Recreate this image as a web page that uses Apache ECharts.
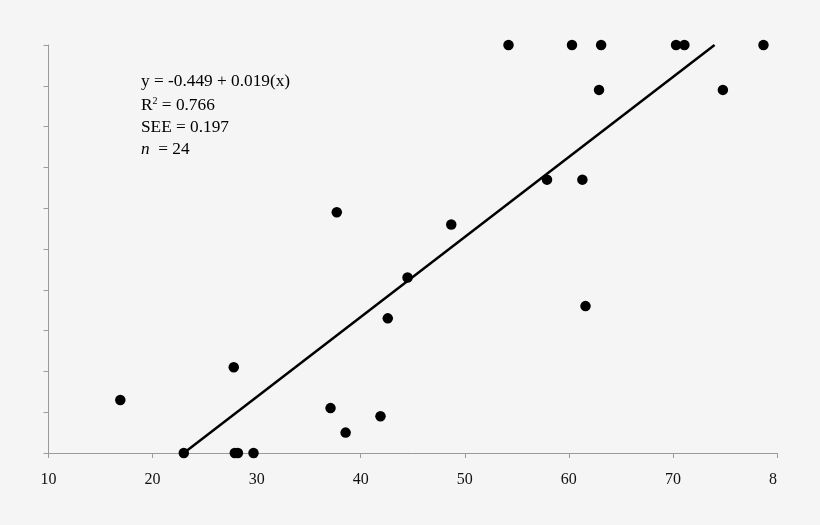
<!DOCTYPE html>
<html>
<head>
<meta charset="utf-8">
<script src="https://cdn.jsdelivr.net/npm/echarts@6/dist/echarts.min.js"></script>
<style>
html,body{margin:0;padding:0;background:#f5f5f5;}
#chart{width:820px;height:525px;}
</style>
</head>
<body>
<div id="chart"></div>
<script>
// Observed points (x, y)
var pointX = [16.9, 23.0, 27.8, 27.9, 28.2, 29.7, 37.1, 38.55, 41.9, 37.7, 42.6, 44.5, 48.7, 61.6,
              54.2, 60.3, 63.1, 70.3, 71.1, 78.7, 62.9, 74.8, 57.9, 61.3];
var pointY = [0.13, 0.0, 0.21, 0.0, 0.0, 0.0, 0.11, 0.05, 0.09, 0.59, 0.33, 0.43, 0.56, 0.36,
              1.0, 1.0, 1.0, 1.0, 1.0, 1.0, 0.89, 0.89, 0.67, 0.67];
// Regression line endpoints as drawn
var lineX = [23.0, 74.0];
var lineY = [0.0, 1.0];
// Tick labels on the x axis (last one is clipped in the original)
var xTickValues = [10, 20, 30, 40, 50, 60, 70, 80];
var xTickLabels = ["10", "20", "30", "40", "50", "60", "70", "8"];
// Annotation text
var statLines = ["y = -0.449 + 0.019(x)", "R", "2", " = 0.766", "SEE = 0.197", "n", "  = 24"];

var chart = echarts.init(document.getElementById('chart'), null, {renderer: 'canvas'});
var serif = '"Liberation Serif", "DejaVu Serif", serif';
var fs = 17.3;

var scatterData = pointX.map(function (x, i) { return [x, pointY[i]]; });
var lineData = lineX.map(function (x, i) { return [x, lineY[i]]; });

var option = {
  backgroundColor: '#f5f5f5',
  animation: false,
  grid: {left: 48.5, right: 43, top: 45, bottom: 72, containLabel: false},
  xAxis: {
    type: 'value', min: 10, max: 80, interval: 10,
    axisLine: {show: true, lineStyle: {color: '#9a9a9a', width: 1}},
    axisTick: {show: true, length: 5, lineStyle: {color: '#9a9a9a'}},
    splitLine: {show: false},
    axisLabel: {
      margin: 19, color: '#111', fontFamily: serif, fontSize: 16,
      formatter: function (v) {
        var i = xTickValues.indexOf(v);
        if (i < 0) return '';
        return i === xTickValues.length - 1 ? '{r|' + xTickLabels[i] + '}' : xTickLabels[i];
      },
      rich: {r: {fontFamily: serif, fontSize: 16, color: '#111', padding: [0, 8, 0, 0]}}
    }
  },
  yAxis: {
    type: 'value', min: 0, max: 1, interval: 0.1,
    axisLine: {show: true, lineStyle: {color: '#9a9a9a', width: 1}},
    axisTick: {show: true, length: 5, lineStyle: {color: '#9a9a9a'}},
    splitLine: {show: false},
    axisLabel: {show: false}
  },
  series: [
    {
      type: 'line', data: lineData, symbol: 'none', clip: false,
      lineStyle: {color: '#000', width: 2.5}, z: 2
    },
    {
      type: 'scatter', data: scatterData, symbol: 'circle', symbolSize: 10.5, clip: false,
      itemStyle: {color: '#000', opacity: 1}, z: 3
    }
  ],
  graphic: [
    {type: 'text', left: 141, top: 73, style: {text: statLines[0], font: fs + 'px ' + serif, fill: '#000'}},
    {type: 'text', left: 141, top: 96, style: {
      text: '{a|' + statLines[1] + '}{s|' + statLines[2] + '}{a|' + statLines[3] + '}',
      rich: {a: {font: fs + 'px ' + serif, color: '#000'},
             s: {font: '10px ' + serif, color: '#000', verticalAlign: 'top', padding: [0, 0, 9, 0]}}
    }},
    {type: 'text', left: 141, top: 119, style: {text: statLines[4], font: fs + 'px ' + serif, fill: '#000'}},
    {type: 'text', left: 141, top: 141, style: {
      text: '{i|' + statLines[5] + '}{a|' + statLines[6] + '}',
      rich: {i: {font: 'italic ' + fs + 'px ' + serif, color: '#000'}, a: {font: fs + 'px ' + serif, color: '#000'}}
    }}
  ]
};
chart.setOption(option);
</script>
</body>
</html>
